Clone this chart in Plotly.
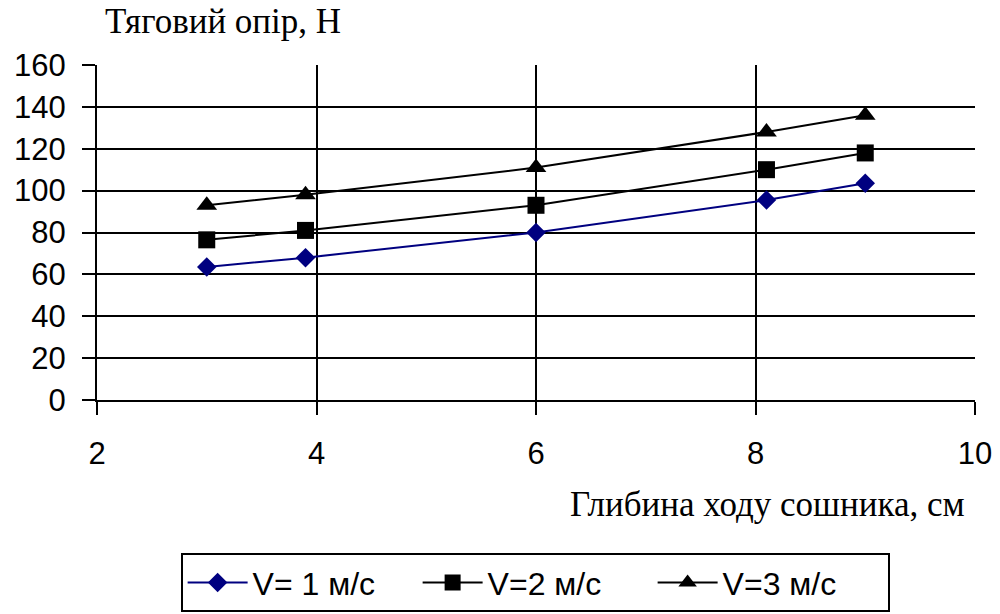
import plotly.graph_objects as go

# Depth of the coulter (cm) and draft resistance (N) for three speeds
depth = [3.0, 3.9, 6.0, 8.1, 9.0]
v1_force = [63.5, 68, 80, 95.5, 103.5]
v2_force = [76.5, 81, 93, 110, 118]
v3_force = [93, 98, 111, 128, 136]

series_names = ["V= 1 м/с", "V=2 м/с", "V=3 м/с"]

fig = go.Figure()
fig.add_trace(go.Scatter(
    x=depth, y=v1_force, name=series_names[0], mode="lines+markers",
    line=dict(color="#000080", width=2),
    marker=dict(symbol="diamond", size=15, color="#000080"),
))
fig.add_trace(go.Scatter(
    x=depth, y=v2_force, name=series_names[1], mode="lines+markers",
    line=dict(color="black", width=2),
    marker=dict(symbol="square", size=17, color="black"),
))
fig.add_trace(go.Scatter(
    x=depth, y=v3_force, name=series_names[2], mode="lines+markers",
    line=dict(color="black", width=2),
    marker=dict(symbol="triangle-up", size=18, color="black"),
))

tick_font = dict(family="Liberation Sans, Arial", size=31, color="black")
title_font = dict(family="Liberation Serif, Times New Roman", size=35, color="black")

fig.update_layout(
    width=1000, height=614,
    margin=dict(l=97, r=25, t=65, b=214, autoexpand=False),
    paper_bgcolor="white", plot_bgcolor="white",
    showlegend=True,
    legend=dict(
        orientation="h", x=0.499, xanchor="center", y=-0.457, yanchor="top",
        bordercolor="black", borderwidth=2,
        font=dict(family="Liberation Sans, Arial", size=32, color="black"),
        itemwidth=60, entrywidth=160,
    ),
    xaxis=dict(
        range=[2, 10], dtick=2, tick0=2,
        showgrid=True, gridcolor="black", gridwidth=2,
        showline=True, linecolor="black", linewidth=2,
        ticks="outside", ticklen=13, tickwidth=2, tickcolor="black",
        ticklabelstandoff=12, automargin=False,
        tickfont=tick_font, zeroline=False,
    ),
    yaxis=dict(
        range=[0, 160], dtick=20,
        showgrid=True, gridcolor="black", gridwidth=2,
        showline=True, linecolor="black", linewidth=2,
        ticks="outside", ticklen=13, tickwidth=2, tickcolor="black",
        ticklabelstandoff=10, automargin=False,
        tickfont=tick_font, zeroline=False,
    ),
    annotations=[
        dict(text="Тяговий опір, Н", xref="paper", yref="paper",
             x=0.0068, y=1.13, xanchor="left", yanchor="middle",
             showarrow=False, font=title_font),
        dict(text="Глибина ходу сошника, см", xref="paper", yref="paper",
             x=0.991, y=-0.313, xanchor="right", yanchor="middle",
             showarrow=False, font=title_font),
    ],
)

fig.write_html("out.html")
